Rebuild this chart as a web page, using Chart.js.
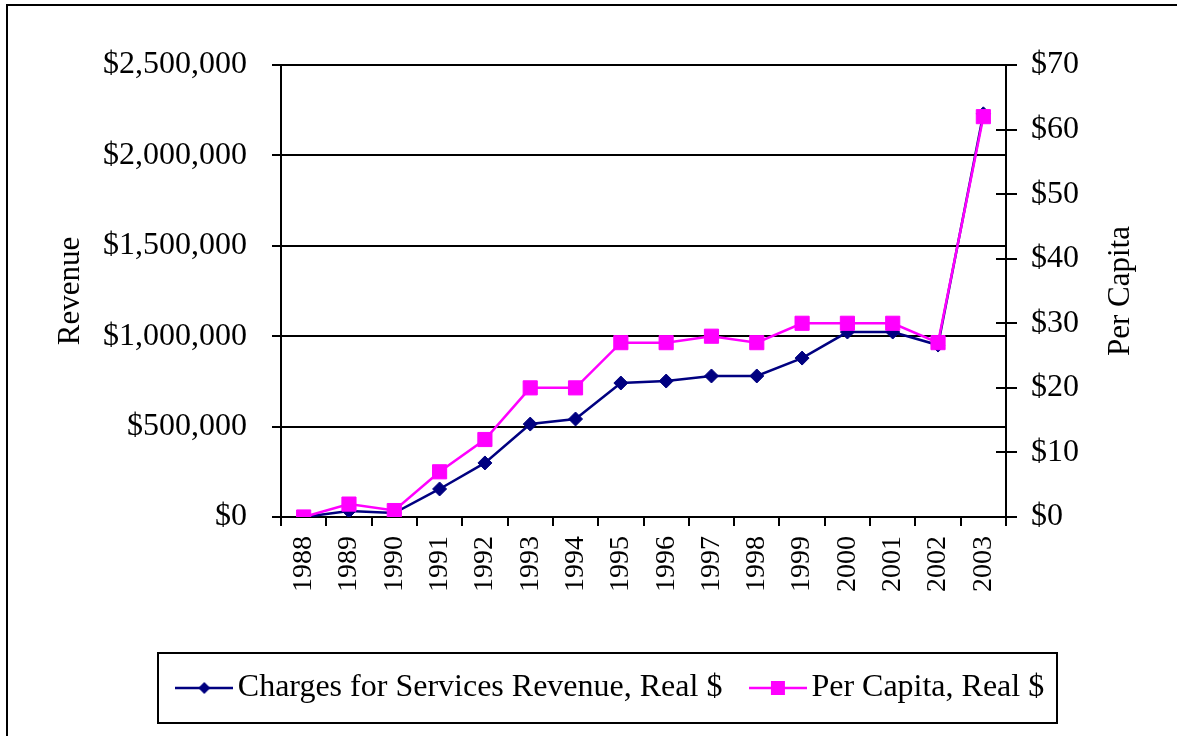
<!DOCTYPE html>
<html><head><meta charset="utf-8">
<script src="https://cdn.jsdelivr.net/npm/chart.js@4.4.1/dist/chart.umd.min.js"></script>
<style>
html,body{margin:0;padding:0;background:#fff;overflow:hidden;width:1177px;height:736px;}
#frame{position:absolute;left:6px;top:4px;width:1400px;height:1000px;border:2px solid #000;}
#c{position:absolute;left:0;top:0;}
</style></head><body>
<div id="frame"></div>
<canvas id="c" width="1177" height="736"></canvas>
<script>
const years = ['1988','1989','1990','1991','1992','1993','1994','1995','1996','1997','1998','1999','2000','2001','2002','2003'];
const revenue = [0, 33000, 22000, 155000, 299000, 514000, 542000, 741000, 752000, 780000, 780000, 879000, 1023000, 1023000, 951000, 2230000];
const perCapita = [0, 2, 1, 7, 12, 20, 20, 27, 27, 28, 27, 30, 30, 30, 27, 62];
const revenueTicks = [0, 500000, 1000000, 1500000, 2000000, 2500000];
const perCapitaTicks = [0, 10, 20, 30, 40, 50, 60, 70];
const seriesNames = ['Charges for Services Revenue, Real $', 'Per Capita, Real $'];
const leftTitle = 'Revenue';
const rightTitle = 'Per Capita';

const NAVY = '#000080', PINK = '#FF00FF';
const FONT = '"Liberation Serif", "Times New Roman", serif';

function legendSample(color, diamond) {
  const c = document.createElement('canvas');
  c.width = 58; c.height = 20;
  const g = c.getContext('2d');
  g.strokeStyle = color; g.lineWidth = 2.5;
  g.beginPath(); g.moveTo(0, 10); g.lineTo(58, 10); g.stroke();
  g.fillStyle = color;
  if (diamond) {
    g.beginPath(); g.moveTo(23, 10); g.lineTo(29, 4); g.lineTo(35, 10); g.lineTo(29, 16); g.closePath(); g.fill();
  } else {
    g.fillRect(22, 3, 14, 14);
  }
  return c;
}
const samples = [legendSample(NAVY, true), legendSample(PINK, false)];

const decor = {
  id: 'decor',
  beforeDatasetsDraw(chart) {
    const ctx = chart.ctx, y1 = chart.scales.y1;
    ctx.save();
    ctx.strokeStyle = '#000'; ctx.lineWidth = 2;
    y1.ticks.forEach((t, i) => {
      const py = Math.round(y1.getPixelForTick(i));
      ctx.beginPath(); ctx.moveTo(y1.left - 10, py); ctx.lineTo(y1.left, py); ctx.stroke();
    });
    ctx.restore();
  },
  afterDraw(chart) {
    const ctx = chart.ctx, y1 = chart.scales.y1, ca = chart.chartArea;
    ctx.save();
    ctx.fillStyle = '#000';
    ctx.font = '31px ' + FONT;
    ctx.textAlign = 'center'; ctx.textBaseline = 'middle';
    ctx.translate(y1.right - 56, (ca.top + ca.bottom) / 2);
    ctx.rotate(-Math.PI / 2);
    ctx.fillText(rightTitle, 0, 0);
    ctx.restore();
    const hb = chart.legend.legendHitBoxes;
    if (hb && hb.length) {
      const first = hb[0], last = hb[hb.length - 1];
      const l = first.left - 28.5, r = last.left + last.width + 13;
      const t = first.top - 19, b = first.top + first.height + 19;
      ctx.save();
      ctx.strokeStyle = '#000'; ctx.lineWidth = 2;
      ctx.strokeRect(Math.round(l), Math.round(t), Math.round(r - l), Math.round(b - t));
      ctx.restore();
    }
  }
};

new Chart(document.getElementById('c'), {
  type: 'line',
  data: {
    labels: years,
    datasets: [
      {
        label: seriesNames[0], data: revenue, yAxisID: 'y', order: 1,
        borderColor: NAVY, backgroundColor: NAVY, borderWidth: 2.5,
        pointStyle: 'rectRot', pointRadius: 7, pointHoverRadius: 7,
        pointBackgroundColor: NAVY, pointBorderColor: NAVY, pointBorderWidth: 1,
        tension: 0, fill: false
      },
      {
        label: seriesNames[1], data: perCapita, yAxisID: 'y1', order: 0,
        borderColor: PINK, backgroundColor: PINK, borderWidth: 2.5,
        pointStyle: 'rect', pointRadius: 10, pointHoverRadius: 10,
        pointBackgroundColor: PINK, pointBorderColor: PINK, pointBorderWidth: 1,
        tension: 0, fill: false
      }
    ]
  },
  options: {
    responsive: false,
    animation: false,
    devicePixelRatio: 1,
    layout: { padding: { left: 54, top: 65, right: 0, bottom: 22 } },
    plugins: {
      tooltip: { enabled: false },
      legend: {
        position: 'bottom',
        labels: {
          usePointStyle: true,
          pointStyleWidth: 35,
          padding: 38,
          color: '#000',
          font: { family: FONT, size: 32 },
          sort: (a, b) => a.datasetIndex - b.datasetIndex,
          generateLabels: (chart) => {
            const items = Chart.defaults.plugins.legend.labels.generateLabels(chart);
            items.forEach(it => { it.pointStyle = samples[it.datasetIndex]; });
            return items;
          }
        }
      }
    },
    scales: {
      x: {
        type: 'category',
        offset: true,
        afterFit: s => { s.height = 117; },
        grid: { offset: true, drawOnChartArea: false, color: '#000', lineWidth: 2, tickLength: 9 },
        border: { color: '#000', width: 2 },
        ticks: { color: '#000', font: { family: FONT, size: 28 }, minRotation: 90, maxRotation: 90, autoSkip: false, padding: 10 }
      },
      y: {
        position: 'left',
        min: 0, max: 2500000,
        afterFit: s => { s.width = 227; },
        afterBuildTicks: s => { s.ticks = revenueTicks.map(v => ({ value: v })); },
        grid: { color: '#000', lineWidth: 2, tickLength: 9 },
        border: { color: '#000', width: 2 },
        ticks: {
          color: '#000', font: { family: FONT, size: 32 }, padding: 25,
          callback: v => '$' + Number(v).toLocaleString('en-US')
        },
        title: { display: true, text: leftTitle, color: '#000', font: { family: FONT, size: 31, lineHeight: 1.1 }, padding: { top: 0, bottom: 0 } }
      },
      y1: {
        position: 'right',
        min: 0, max: 70,
        afterFit: s => { s.width = 171; },
        afterBuildTicks: s => { s.ticks = perCapitaTicks.map(v => ({ value: v })); },
        grid: { drawOnChartArea: false, color: '#000', lineWidth: 2, tickLength: 11 },
        border: { color: '#000', width: 2 },
        ticks: { color: '#000', font: { family: FONT, size: 32 }, padding: 14, callback: v => '$' + v }
      }
    }
  },
  plugins: [decor]
});
</script>
</body></html>
